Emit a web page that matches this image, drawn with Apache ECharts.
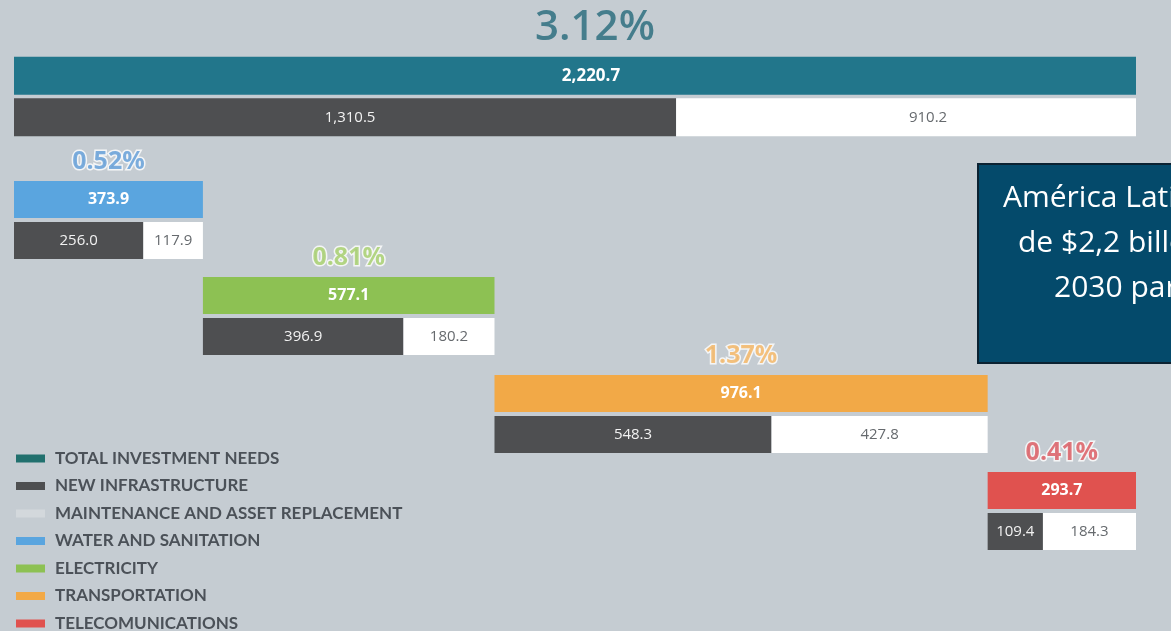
<!DOCTYPE html>
<html>
<head>
<meta charset="utf-8">
<script src="https://cdn.jsdelivr.net/npm/echarts@6/dist/echarts.min.js"></script>
<style>
  html, body { margin: 0; padding: 0; background: #c5ccd2; }
  #chart { width: 1171px; height: 631px; }
</style>
</head>
<body>
<div id="chart"></div>
<script>
// investment needs to 2030, billions of US$
var seriesNames = ['TOTAL INVESTMENT NEEDS', 'WATER AND SANITATION', 'ELECTRICITY', 'TRANSPORTATION', 'TELECOMUNICATIONS'];
var totalNeeds = [2220.7, 373.9, 577.1, 976.1, 293.7];
var newInfra = [1310.5, 256.0, 396.9, 548.3, 109.4];
var maintenance = [910.2, 117.9, 180.2, 427.8, 184.3];
var gdpShare = ['3.12%', '0.52%', '0.81%', '1.37%', '0.41%'];

var barColors = ['#22768b', '#5aa5df', '#8dc153', '#f2a947', '#e0524f'];
var pctColors = ['#24697b', '#5d9ad6', '#a3cd68', '#f3b35f', '#d9545b'];
var darkColor = '#4e4f51';
var gridTops = [55, 179, 275, 373, 470];

var myChart = echarts.init(document.getElementById('chart'));

function fmt (v) {
  return v.toLocaleString('en-US', { minimumFractionDigits: 1, maximumFractionDigits: 1 });
}

var grids = [], xAxes = [], yAxes = [], series = [];
var start = 0;
for (var i = 0; i < totalNeeds.length; i++) {
  var offset = i === 0 ? 0 : start;
  if (i > 0) start += totalNeeds[i];
  var isTotal = i === 0;

  grids.push({ left: 14, right: 35, top: gridTops[i], height: isTotal ? 83 : 82 });
  xAxes.push({ gridIndex: i, type: 'value', min: 0, max: totalNeeds[0], show: false });
  yAxes.push({ gridIndex: i, type: 'category', data: ['total', 'split'], inverse: true, show: false });

  var common = { type: 'bar', xAxisIndex: i, yAxisIndex: i, stack: 's' + i, barWidth: isTotal ? 38 : 37, silent: true };

  series.push(Object.assign({}, common, {
    name: 'base' + i,
    data: [offset, offset],
    itemStyle: { color: 'transparent' }
  }));
  series.push(Object.assign({}, common, {
    name: seriesNames[i],
    data: [totalNeeds[i], '-'],
    itemStyle: { color: barColors[i] },
    label: {
      show: true, position: 'inside', offset: [isTotal ? 16 : 0, 0],
      formatter: function (p) { return fmt(p.value) },
      color: '#fff', fontFamily: 'Open Sans', fontWeight: 'bold', fontSize: isTotal ? 17 : 16
    }
  }));
  series.push(Object.assign({}, common, {
    name: 'NEW INFRASTRUCTURE',
    data: ['-', newInfra[i]],
    itemStyle: { color: darkColor },
    label: {
      show: true, position: 'inside', offset: [isTotal ? 5 : 0, 0],
      formatter: function (p) { return fmt(p.value) },
      color: '#f2f2f2', fontFamily: 'Open Sans', fontSize: 15
    }
  }));
  series.push(Object.assign({}, common, {
    name: 'MAINTENANCE AND ASSET REPLACEMENT',
    data: ['-', maintenance[i]],
    itemStyle: { color: '#ffffff' },
    label: {
      show: true, position: 'inside', offset: [isTotal ? 22 : 0, 0],
      formatter: function (p) { return fmt(p.value) },
      color: '#666a6e', fontFamily: 'Open Sans', fontSize: 15
    }
  }));
  // share of GDP above each total bar
  series.push({
    type: 'scatter', xAxisIndex: i, yAxisIndex: i, silent: true,
    symbolSize: 0,
    data: [[offset + totalNeeds[i] / 2, 0]],
    label: {
      show: true, position: 'inside',
      offset: isTotal ? [20, -48] : [0, -38],
      formatter: gdpShare[i],
      color: pctColors[i],
      fontFamily: 'Open Sans', fontWeight: isTotal ? 600 : 'bold',
      fontSize: isTotal ? 42 : 25,
      textBorderColor: isTotal ? 'transparent' : '#ffffff',
      textBorderWidth: isTotal ? 0 : 3
    }
  });
}

var option = {
  backgroundColor: '#c5ccd2',
  animation: false,
  grid: grids,
  xAxis: xAxes,
  yAxis: yAxes,
  legend: {
    orient: 'vertical',
    left: 16,
    top: 450,
    height: 200,
    padding: 0,
    icon: 'rect',
    itemWidth: 29,
    itemHeight: 8,
    itemGap: 10.5,
    selectedMode: false,
    textStyle: {
      fontFamily: 'Lato', fontWeight: 'bold', fontSize: 17, color: '#4b5158',
      padding: [0, 0, 0, 5]
    },
    data: [
      { name: 'TOTAL INVESTMENT NEEDS', itemStyle: { color: '#21706e' } },
      { name: 'NEW INFRASTRUCTURE' },
      { name: 'MAINTENANCE AND ASSET REPLACEMENT', itemStyle: { color: '#d3d8dc' } },
      { name: 'WATER AND SANITATION' },
      { name: 'ELECTRICITY' },
      { name: 'TRANSPORTATION' },
      { name: 'TELECOMUNICATIONS' }
    ]
  },
  graphic: [
    {
      type: 'rect', left: 977, top: 163, z: 100,
      shape: { width: 260, height: 199 },
      style: { fill: '#044a6b', stroke: '#0b2232', lineWidth: 2 }
    },
    {
      type: 'text', x: 1003, y: 198, z: 101,
      style: { text: 'América Latina necesita', fill: '#ffffff', font: '30px "Open Sans"', verticalAlign: 'middle' }
    },
    {
      type: 'text', x: 1018, y: 243, z: 101,
      style: { text: 'de $2,2 billones hasta', fill: '#ffffff', font: '30px "Open Sans"', verticalAlign: 'middle' }
    },
    {
      type: 'text', x: 1054, y: 288, z: 101,
      style: { text: '2030 para cerrar', fill: '#ffffff', font: '30px "Open Sans"', verticalAlign: 'middle' }
    }
  ],
  series: series
};

myChart.setOption(option);
</script>
</body>
</html>
